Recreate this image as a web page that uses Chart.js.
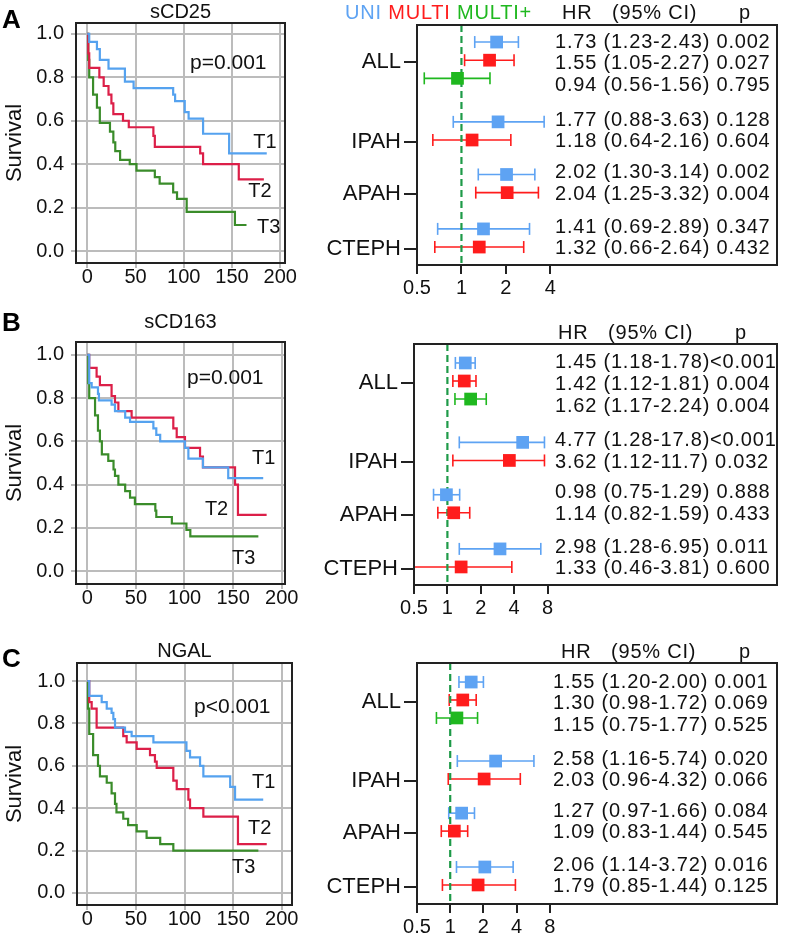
<!DOCTYPE html>
<html>
<head>
<meta charset="utf-8">
<title>Survival and hazard ratios</title>
<script src="https://cdn.jsdelivr.net/npm/chart.js@4.4.1/dist/chart.umd.min.js"></script>
<style>
    body { margin: 0; background: #fff; }
    #fig { position: relative; width: 786px; height: 936px; overflow: hidden; background: #fff; }
    #fig canvas { position: absolute; }
</style>
</head>
<body>
<div id="fig">
    <canvas id="kmA" width="300" height="305" style="left:0;top:0"></canvas>
    <canvas id="fpA" width="496" height="305" style="left:290px;top:0"></canvas>
    <canvas id="kmB" width="300" height="312" style="left:0;top:310px"></canvas>
    <canvas id="fpB" width="496" height="312" style="left:290px;top:310px"></canvas>
    <canvas id="kmC" width="300" height="316" style="left:0;top:620px"></canvas>
    <canvas id="fpC" width="496" height="316" style="left:290px;top:620px"></canvas>
</div>
<script>
// ---- KAPLAN-MEIER DATA (time, survival) ----
const kmXTicks = [0, 50, 100, 150, 200];
const kmYTicks = [0, 0.2, 0.4, 0.6, 0.8, 1.0];
const kmCurveNames = ['T1', 'T2', 'T3'];

// A - sCD25
const a_t1_time = [0, 2, 10, 13, 22, 39, 48, 89, 91, 101, 105, 120, 147, 186];
const a_t1_surv = [1, 0.963, 0.93, 0.88, 0.84, 0.78, 0.75, 0.72, 0.69, 0.64, 0.61, 0.54, 0.45, 0.45];
const a_t2_time = [0, 1, 2, 12.5, 17, 22, 25, 27, 37, 43, 68.5, 70, 117, 120, 157, 183];
const a_t2_surv = [1, 0.91, 0.843, 0.80, 0.76, 0.72, 0.68, 0.63, 0.60, 0.57, 0.53, 0.48, 0.45, 0.40, 0.33, 0.33];
const a_t3_time = [0, 1, 2, 6, 10, 13, 23.5, 27, 29, 34, 44, 51, 70, 75, 89, 93, 103, 153, 165];
const a_t3_surv = [1, 0.88, 0.80, 0.72, 0.66, 0.59, 0.55, 0.50, 0.46, 0.42, 0.40, 0.37, 0.34, 0.31, 0.27, 0.24, 0.18, 0.12, 0.12];

// B - sCD163
const b_t1_time = [0, 2, 4.5, 11, 12, 25, 28.5, 39, 44, 68, 71, 75, 100.5, 104, 119, 145, 181];
const b_t1_surv = [1, 0.87, 0.85, 0.82, 0.79, 0.77, 0.74, 0.71, 0.69, 0.66, 0.63, 0.60, 0.57, 0.52, 0.48, 0.43, 0.43];
const b_t2_time = [0, 2, 9.6, 13, 25, 28.5, 32, 45.6, 88.5, 92, 100.5, 116, 119, 152, 155, 184.5];
const b_t2_surv = [1, 0.94, 0.90, 0.86, 0.81, 0.78, 0.74, 0.71, 0.66, 0.62, 0.57, 0.53, 0.48, 0.40, 0.26, 0.26];
const b_t3_time = [0, 1, 2, 8, 11, 13, 15, 21.6, 27, 28.5, 32, 39, 44, 49, 70, 71, 87, 102, 106, 176];
const b_t3_surv = [1, 0.87, 0.80, 0.72, 0.65, 0.60, 0.54, 0.51, 0.47, 0.44, 0.40, 0.37, 0.34, 0.31, 0.28, 0.25, 0.22, 0.19, 0.16, 0.16];

// C - NGAL
const c_t1_time = [0, 2, 14.8, 20, 25, 26.8, 28.5, 38.8, 45.6, 68, 102, 105.7, 116, 119.4, 147, 152, 181];
const c_t1_surv = [1, 0.93, 0.90, 0.87, 0.85, 0.82, 0.78, 0.76, 0.74, 0.71, 0.67, 0.64, 0.60, 0.55, 0.50, 0.44, 0.44];
const c_t2_time = [0, 2, 4.5, 9.6, 37, 40.5, 50.8, 64.5, 69.6, 71.4, 88.5, 92, 104, 105.7, 119.4, 155, 184.6];
const c_t2_surv = [1, 0.90, 0.87, 0.78, 0.74, 0.71, 0.68, 0.65, 0.62, 0.59, 0.53, 0.49, 0.44, 0.40, 0.36, 0.23, 0.23];
const c_t3_time = [0, 0.7, 2, 6, 11, 13, 20, 25, 28.5, 30, 37, 42, 50.8, 61, 75, 88.5, 176];
const c_t3_surv = [1, 0.87, 0.75, 0.65, 0.60, 0.55, 0.52, 0.47, 0.42, 0.38, 0.35, 0.32, 0.29, 0.26, 0.23, 0.20, 0.20];

// ---- FOREST DATA (order: ALL, IPAH, APAH, CTEPH) ----
const groups = ['ALL', 'IPAH', 'APAH', 'CTEPH'];
const seriesNames = ['UNI', 'MULTI', 'MULTI+'];
const hrTicksA = [0.5, 1, 2, 4];
const hrTicksBC = [0.5, 1, 2, 4, 8];

const a_uni_hr = [1.73, 1.77, 2.02, 1.41];
const a_uni_lo = [1.23, 0.88, 1.30, 0.69];
const a_uni_hi = [2.43, 3.63, 3.14, 2.89];
const a_multi_hr = [1.55, 1.18, 2.04, 1.32];
const a_multi_lo = [1.05, 0.64, 1.25, 0.66];
const a_multi_hi = [2.27, 2.16, 3.32, 2.64];
const a_plus_hr = [0.94];
const a_plus_lo = [0.56];
const a_plus_hi = [1.56];
const a_text = ['1.73 (1.23-2.43) 0.002', '1.55 (1.05-2.27) 0.027', '0.94 (0.56-1.56) 0.795',
    '1.77 (0.88-3.63) 0.128', '1.18 (0.64-2.16) 0.604', '2.02 (1.30-3.14) 0.002',
    '2.04 (1.25-3.32) 0.004', '1.41 (0.69-2.89) 0.347', '1.32 (0.66-2.64) 0.432'];

const b_uni_hr = [1.45, 4.77, 0.98, 2.98];
const b_uni_lo = [1.18, 1.28, 0.75, 1.28];
const b_uni_hi = [1.78, 17.8, 1.29, 6.95];
const b_multi_hr = [1.42, 3.62, 1.14, 1.33];
const b_multi_lo = [1.12, 1.12, 0.82, 0.46];
const b_multi_hi = [1.81, 11.7, 1.59, 3.81];
const b_plus_hr = [1.62];
const b_plus_lo = [1.17];
const b_plus_hi = [2.24];
const b_text = ['1.45 (1.18-1.78)<0.001', '1.42 (1.12-1.81) 0.004', '1.62 (1.17-2.24) 0.004',
    '4.77 (1.28-17.8)<0.001', '3.62 (1.12-11.7) 0.032', '0.98 (0.75-1.29) 0.888',
    '1.14 (0.82-1.59) 0.433', '2.98 (1.28-6.95) 0.011', '1.33 (0.46-3.81) 0.600'];

const c_uni_hr = [1.55, 2.58, 1.27, 2.06];
const c_uni_lo = [1.20, 1.16, 0.97, 1.14];
const c_uni_hi = [2.00, 5.74, 1.66, 3.72];
const c_multi_hr = [1.30, 2.03, 1.09, 1.79];
const c_multi_lo = [0.98, 0.96, 0.83, 0.85];
const c_multi_hi = [1.72, 4.32, 1.44, 3.9]; // last whisker drawn to ~3.9 in the figure
const c_plus_hr = [1.15];
const c_plus_lo = [0.75];
const c_plus_hi = [1.77];
const c_text = ['1.55 (1.20-2.00) 0.001', '1.30 (0.98-1.72) 0.069', '1.15 (0.75-1.77) 0.525',
    '2.58 (1.16-5.74) 0.020', '2.03 (0.96-4.32) 0.066', '1.27 (0.97-1.66) 0.084',
    '1.09 (0.83-1.44) 0.545', '2.06 (1.14-3.72) 0.016', '1.79 (0.85-1.44) 0.125'];

// ---- STYLE / LAYOUT ----
const FONT = "'Liberation Sans', Arial, Helvetica, sans-serif";
const INK = '#111';
const GRID = '#bcbcbc';
const kmColors = ['#55a2ef', '#dc1f48', '#3a8c2a'];
const seriesColors = ['#5ea3f3', '#ff1c1c', '#1fb81f'];
const groupStart = [0, 4.4, 7.3, 10.3];   // row position of each group's first line
const WHISKER_CAP = 7.5;                   // long CIs are cut here in the figure

// KM DECORATION: frame, title, letter, p-value, curve labels
const kmDecor = {
    id: 'kmDecor',
    afterDraw(chart, args, o) {
        const { ctx, chartArea: a, scales: { x, y } } = chart;
        ctx.save();
        ctx.strokeStyle = '#222';
        ctx.lineWidth = 2;
        ctx.strokeRect(a.left, a.top, a.right - a.left, a.bottom - a.top);
        ctx.fillStyle = '#000';
        ctx.textAlign = 'left';
        ctx.textBaseline = 'alphabetic';
        ctx.font = `bold 26px ${FONT}`;
        ctx.fillText(o.letter, 2, o.letterY);
        ctx.fillStyle = INK;
        ctx.textBaseline = 'middle';
        ctx.textAlign = 'center';
        ctx.font = `20px ${FONT}`;
        ctx.fillText(o.title, (a.left + a.right) / 2, o.titleY);
        ctx.textAlign = 'left';
        ctx.font = `21px ${FONT}`;
        ctx.fillText(o.pText, x.getPixelForValue(o.pAt[0]), y.getPixelForValue(o.pAt[1]));
        ctx.font = `20px ${FONT}`;
        kmCurveNames.forEach((n, i) => {
            ctx.fillText(n, x.getPixelForValue(o.tAt[i][0]), y.getPixelForValue(o.tAt[i][1]));
        });
        ctx.restore();
    }
};

// FOREST DECORATION: frame, header, legend, text column
const forestDecor = {
    id: 'forestDecor',
    afterDraw(chart, args, o) {
        const { ctx, chartArea: a, scales: { y } } = chart;
        ctx.save();
        ctx.strokeStyle = '#222';
        ctx.lineWidth = 2;
        ctx.strokeRect(a.left, a.top, a.right - a.left, a.bottom - a.top);
        ctx.letterSpacing = '0.8px';
        ctx.font = `20px ${FONT}`;
        ctx.textBaseline = 'middle';
        ctx.textAlign = 'left';
        ctx.fillStyle = INK;
        ctx.fillText('HR', o.hrX, o.headY);
        ctx.fillText('(95% CI)', o.ciX, o.headY);
        ctx.fillText('p', o.pX, o.headY);
        if (o.legendX) {
            let lx = o.legendX;
            seriesNames.forEach((n, i) => {
                ctx.fillStyle = seriesColors[i];
                ctx.fillText(n, lx, o.headY);
                lx += ctx.measureText(n + ' ').width;
            });
        }
        ctx.fillStyle = INK;
        let k = 0;
        groups.forEach((g, gi) => {
            const n = gi === 0 ? 3 : 2;
            for (let s = 0; s < n; s++) {
                const row = groupStart[gi] - (gi ? 0.1 : 0) + s * 1.2;
                ctx.fillText(o.text[k++], o.textX, y.getPixelForValue(row));
            }
        });
        ctx.restore();
    }
};

function makeKM(id, p) {
    new Chart(document.getElementById(id), {
        type: 'line',
        data: {
            datasets: p.curves.map((c, i) => ({
                label: kmCurveNames[i],
                data: c[0].map((t, j) => ({ x: t, y: c[1][j] })),
                borderColor: kmColors[i],
                borderWidth: 2.2,
                stepped: 'before',
                pointRadius: 0,
                fill: false
            }))
        },
        options: {
            responsive: false,
            animation: false,
            events: [],
            layout: { padding: p.pad },
            plugins: {
                legend: { display: false },
                tooltip: { enabled: false },
                kmDecor: p.decor
            },
            scales: {
                x: {
                    type: 'linear', min: p.xMin, max: p.xMax,
                    afterBuildTicks: s => { s.ticks = kmXTicks.map(v => ({ value: v })); },
                    afterFit: s => { s.height = p.xH; },
                    grid: { color: GRID, lineWidth: 2, tickLength: 5, tickColor: GRID },
                    border: { color: '#222', width: 2 },
                    ticks: { font: { family: FONT, size: 20 }, color: INK, padding: -3, maxRotation: 0 }
                },
                y: {
                    type: 'linear', min: p.yMin, max: p.yMax,
                    afterBuildTicks: s => { s.ticks = kmYTicks.map(v => ({ value: v })); },
                    afterFit: s => { s.width = p.yW; },
                    grid: { color: GRID, lineWidth: 2, tickLength: 5, tickColor: GRID },
                    border: { color: '#222', width: 2 },
                    title: { display: true, text: 'Survival', color: INK, font: { family: FONT, size: 22 }, padding: { top: 2, bottom: 0 } },
                    ticks: { font: { family: FONT, size: 20 }, color: INK, padding: 7, callback: v => v.toFixed(1) }
                }
            }
        },
        plugins: [kmDecor]
    });
}

function makeForest(id, p) {
    const datasets = [{
        type: 'line',
        data: [{ x: 1, y: p.yMin }, { x: 1, y: p.yMax }],
        borderColor: '#1e9a48', borderWidth: 2.2, borderDash: [7, 4],
        pointRadius: 0, order: 1
    }];
    p.hr.forEach((vals, s) => {
        vals.forEach((v, g) => {
            const row = groupStart[g] + s;
            datasets.push({
                type: 'line',
                data: [{ x: Math.max(p.lo[s][g], 0.5), y: row }, { x: Math.min(p.hi[s][g], WHISKER_CAP), y: row }],
                borderColor: seriesColors[s], borderWidth: 1.6,
                pointStyle: 'line', rotation: 90, pointRadius: 6,
                pointBorderColor: seriesColors[s], pointBorderWidth: 1.6,
                order: 2
            });
        });
        datasets.push({
            type: 'scatter',
            data: vals.map((v, g) => ({ x: v, y: groupStart[g] + s })),
            pointStyle: 'rect', pointRadius: 9,
            pointBackgroundColor: seriesColors[s], pointBorderColor: seriesColors[s], pointBorderWidth: 0,
            order: 0
        });
    });
    new Chart(document.getElementById(id), {
        type: 'scatter',
        data: { datasets },
        options: {
            responsive: false,
            animation: false,
            events: [],
            layout: { padding: p.pad },
            plugins: {
                legend: { display: false },
                tooltip: { enabled: false },
                forestDecor: p.decor
            },
            scales: {
                x: {
                    type: 'logarithmic', min: 0.5, max: p.xMax,
                    afterBuildTicks: s => { s.ticks = p.ticks.map(v => ({ value: v })); },
                    afterFit: s => { s.height = p.xH; },
                    grid: { drawOnChartArea: false, tickLength: 9, tickColor: '#222', lineWidth: 2 },
                    border: { color: '#222', width: 2 },
                    ticks: { font: { family: FONT, size: 20 }, color: INK, padding: 2, maxRotation: 0, callback: v => String(v) }
                },
                y: {
                    type: 'linear', reverse: true, min: p.yMin, max: p.yMax,
                    afterBuildTicks: s => { s.ticks = groupStart.map(v => ({ value: v + 1.1 })); },
                    afterFit: s => { s.width = p.yW; },
                    grid: { drawOnChartArea: false, tickLength: 13, tickColor: '#222', lineWidth: 2 },
                    border: { color: '#222', width: 2 },
                    ticks: { font: { family: FONT, size: 22 }, color: INK, padding: 3, callback: (v, i) => groups[i] }
                }
            }
        },
        plugins: [forestDecor]
    });
}

// ---- ROW A ----
makeKM('kmA', {
    curves: [[a_t1_time, a_t1_surv], [a_t2_time, a_t2_surv], [a_t3_time, a_t3_surv]],
    pad: { left: 0, top: 23, right: 15, bottom: 0 }, yW: 76, xH: 42,
    xMin: -11.7, xMax: 204.9, yMin: -0.055, yMax: 1.05,
    decor: { letter: 'A', letterY: 28, title: 'sCD25', titleY: 12.5, pText: 'p=0.001', pAt: [106.5, 0.866],
             tAt: [[172, 0.502], [166.8, 0.272], [176, 0.11]] }
});
makeForest('fpA', {
    hr: [a_uni_hr, a_multi_hr, a_plus_hr], lo: [a_uni_lo, a_multi_lo, a_plus_lo], hi: [a_uni_hi, a_multi_hi, a_plus_hi],
    ticks: hrTicksA, xMax: 137, yMin: -0.94, yMax: 12.29,
    pad: { left: 0, top: 25, right: 5, bottom: 0 }, yW: 127, xH: 40,
    decor: { text: a_text, textX: 265, headY: 13, hrX: 272, ciX: 322, pX: 449, legendX: 55 }
});

// ---- ROW B ----
makeKM('kmB', {
    curves: [[b_t1_time, b_t1_surv], [b_t2_time, b_t2_surv], [b_t3_time, b_t3_surv]],
    pad: { left: 0, top: 32, right: 15, bottom: 0 }, yW: 76, xH: 38,
    xMin: -11.6, xMax: 203.4, yMin: -0.06, yMax: 1.06,
    decor: { letter: 'B', letterY: 21, title: 'sCD163', titleY: 12, pText: 'p=0.001', pAt: [102.6, 0.894],
             tAt: [[169.4, 0.523], [121, 0.287], [148.9, 0.06]] }
});
makeForest('fpB', {
    hr: [b_uni_hr, b_multi_hr, b_plus_hr], lo: [b_uni_lo, b_multi_lo, b_plus_lo], hi: [b_uni_hi, b_multi_hi, b_plus_hi],
    ticks: hrTicksBC, xMax: 936, yMin: -1.05, yMax: 12.3,
    pad: { left: 0, top: 34, right: 5, bottom: 0 }, yW: 124, xH: 37,
    decor: { text: b_text, textX: 265, headY: 23, hrX: 268, ciX: 318, pX: 445 }
});

// ---- ROW C ----
makeKM('kmC', {
    curves: [[c_t1_time, c_t1_surv], [c_t2_time, c_t2_surv], [c_t3_time, c_t3_surv]],
    pad: { left: 0, top: 43, right: 8, bottom: 0 }, yW: 77, xH: 31,
    xMin: -10.6, xMax: 210.6, yMin: -0.057, yMax: 1.085,
    decor: { letter: 'C', letterY: 47, title: 'NGAL', titleY: 31, pText: 'p<0.001', pAt: [109.8, 0.877],
             tAt: [[169.4, 0.519], [165.3, 0.302], [148.9, 0.118]] }
});
makeForest('fpC', {
    hr: [c_uni_hr, c_multi_hr, c_plus_hr], lo: [c_uni_lo, c_multi_lo, c_plus_lo], hi: [c_uni_hi, c_multi_hi, c_plus_hi],
    ticks: hrTicksBC, xMax: 917, yMin: -1.06, yMax: 12.36,
    pad: { left: 0, top: 43, right: 3, bottom: 0 }, yW: 127, xH: 32,
    decor: { text: c_text, textX: 263, headY: 32, hrX: 271, ciX: 321, pX: 449 }
});
</script>
</body>
</html>
